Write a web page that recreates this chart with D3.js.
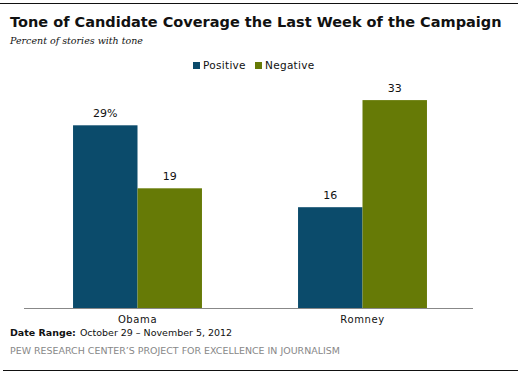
<!DOCTYPE html>
<html>
<head>
<meta charset="utf-8">
<script src="https://cdn.jsdelivr.net/npm/d3@7"></script>
<style>
  body { margin: 0; background: #fff; }
  text { font-family: "DejaVu Sans", Verdana, sans-serif; }
</style>
</head>
<body>
<script>
const candidates = ["Obama", "Romney"];
const seriesNames = ["Positive", "Negative"];
const positive = [29, 16];
const negative = [19, 33];
const valueLabels = [["29%", "19"], ["16", "33"]];

const colors = {Positive: "#0b4b6b", Negative: "#667a06"};

const W = 525, H = 375;
const svg = d3.select("body").append("svg")
   .attr("width", W)
   .attr("height", H);

// shrink/grow a text so it spans the width seen in the reference
function fitWidth(sel, target, size) {
  const len = sel.node().getComputedTextLength();
  sel.style("font-size", (size * target / len).toFixed(2) + "px");
}

// rules top and bottom
svg.append("line").attr("x1", 0).attr("x2", 518).attr("y1", 3.5).attr("y2", 3.5)
   .attr("stroke", "#111").attr("stroke-width", 1);
svg.append("line").attr("x1", 3).attr("x2", 518).attr("y1", 370.5).attr("y2", 370.5)
   .attr("stroke", "#111").attr("stroke-width", 1);

// title
const title = svg.append("text")
   .attr("x", 10).attr("y", 27)
   .style("font-weight", "bold")
   .style("font-size", "16px")
   .style("fill", "#111")
   .text("Tone of Candidate Coverage the Last Week of the Campaign");
fitWidth(title, 492, 16);

const sub = svg.append("text")
   .attr("x", 10).attr("y", 44)
   .style("font-family", "'DejaVu Serif', Georgia, serif")
   .style("font-style", "italic")
   .style("font-size", "11px")
   .style("fill", "#111")
   .text("Percent of stories with tone");
fitWidth(sub, 133, 11);

// legend
const legendX = [193, 255];
seriesNames.forEach((s, i) => {
  svg.append("rect")
     .attr("x", legendX[i]).attr("y", 62)
     .attr("width", 7).attr("height", 7)
     .attr("fill", colors[s]);
  svg.append("text")
     .attr("x", legendX[i] + 10).attr("y", 69)
     .style("font-size", "10.5px")
     .style("letter-spacing", "0.3px")
     .style("fill", "#111")
     .text(s);
});

// scales
const x0 = d3.scaleBand()
   .domain(candidates)
   .range([25, 475])
   .paddingInner(0.427)
   .paddingOuter(0.2135);
const x1 = d3.scaleBand()
   .domain(seriesNames)
   .range([0, x0.bandwidth()]);
const y = d3.scaleLinear()
   .domain([0, 35])
   .range([308, 87.5]);

const rows = candidates.map((c, i) => ({
  name: c,
  vals: [
    {key: "Positive", value: positive[i], label: valueLabels[i][0]},
    {key: "Negative", value: negative[i], label: valueLabels[i][1]}
  ]
}));

const groups = svg.selectAll("g.cand")
   .data(rows)
   .enter()
   .append("g")
   .attr("class", "cand")
   .attr("transform", d => "translate(" + x0(d.name) + ",0)");

groups.selectAll("rect")
   .data(d => d.vals)
   .enter()
   .append("rect")
   .attr("x", d => x1(d.key))
   .attr("y", d => y(d.value))
   .attr("width", x1.bandwidth())
   .attr("height", d => y(0) - y(d.value))
   .attr("fill", d => colors[d.key]);

groups.selectAll("text.val")
   .data(d => d.vals)
   .enter()
   .append("text")
   .attr("class", "val")
   .attr("x", d => x1(d.key) + x1.bandwidth() / 2)
   .attr("y", d => y(d.value) - 8)
   .style("text-anchor", "middle")
   .style("font-size", "11px")
   .style("fill", "#111")
   .text(d => d.label);

// baseline axis
const xAxis = d3.axisBottom(x0).tickSize(0).tickPadding(8);
const ax = svg.append("g")
   .attr("transform", "translate(0," + y(0) + ")")
   .call(xAxis);
ax.select(".domain").remove();
ax.append("line")
   .attr("x1", 24).attr("x2", 473)
   .attr("y1", 0.5).attr("y2", 0.5)
   .attr("stroke", "#888");
ax.selectAll(".tick text")
   .style("font-family", "'DejaVu Sans', Verdana, sans-serif")
   .style("font-size", "10px")
   .style("letter-spacing", "0.6px")
   .style("fill", "#111");

// footer
const dr = svg.append("text")
   .attr("x", 10).attr("y", 336)
   .style("font-size", "10px")
   .style("fill", "#111");
dr.append("tspan").style("font-weight", "bold").text("Date Range:");
dr.append("tspan").attr("dx", 4).text("October 29 \u2013 November 5, 2012");
fitWidth(dr, 218, 10);

const pew = svg.append("text")
   .attr("x", 10).attr("y", 354)
   .style("font-size", "9.5px")
   .style("fill", "#888")
   .text("PEW RESEARCH CENTER\u2019S PROJECT FOR EXCELLENCE IN JOURNALISM");
fitWidth(pew, 330, 9.5);
</script>
</body>
</html>
